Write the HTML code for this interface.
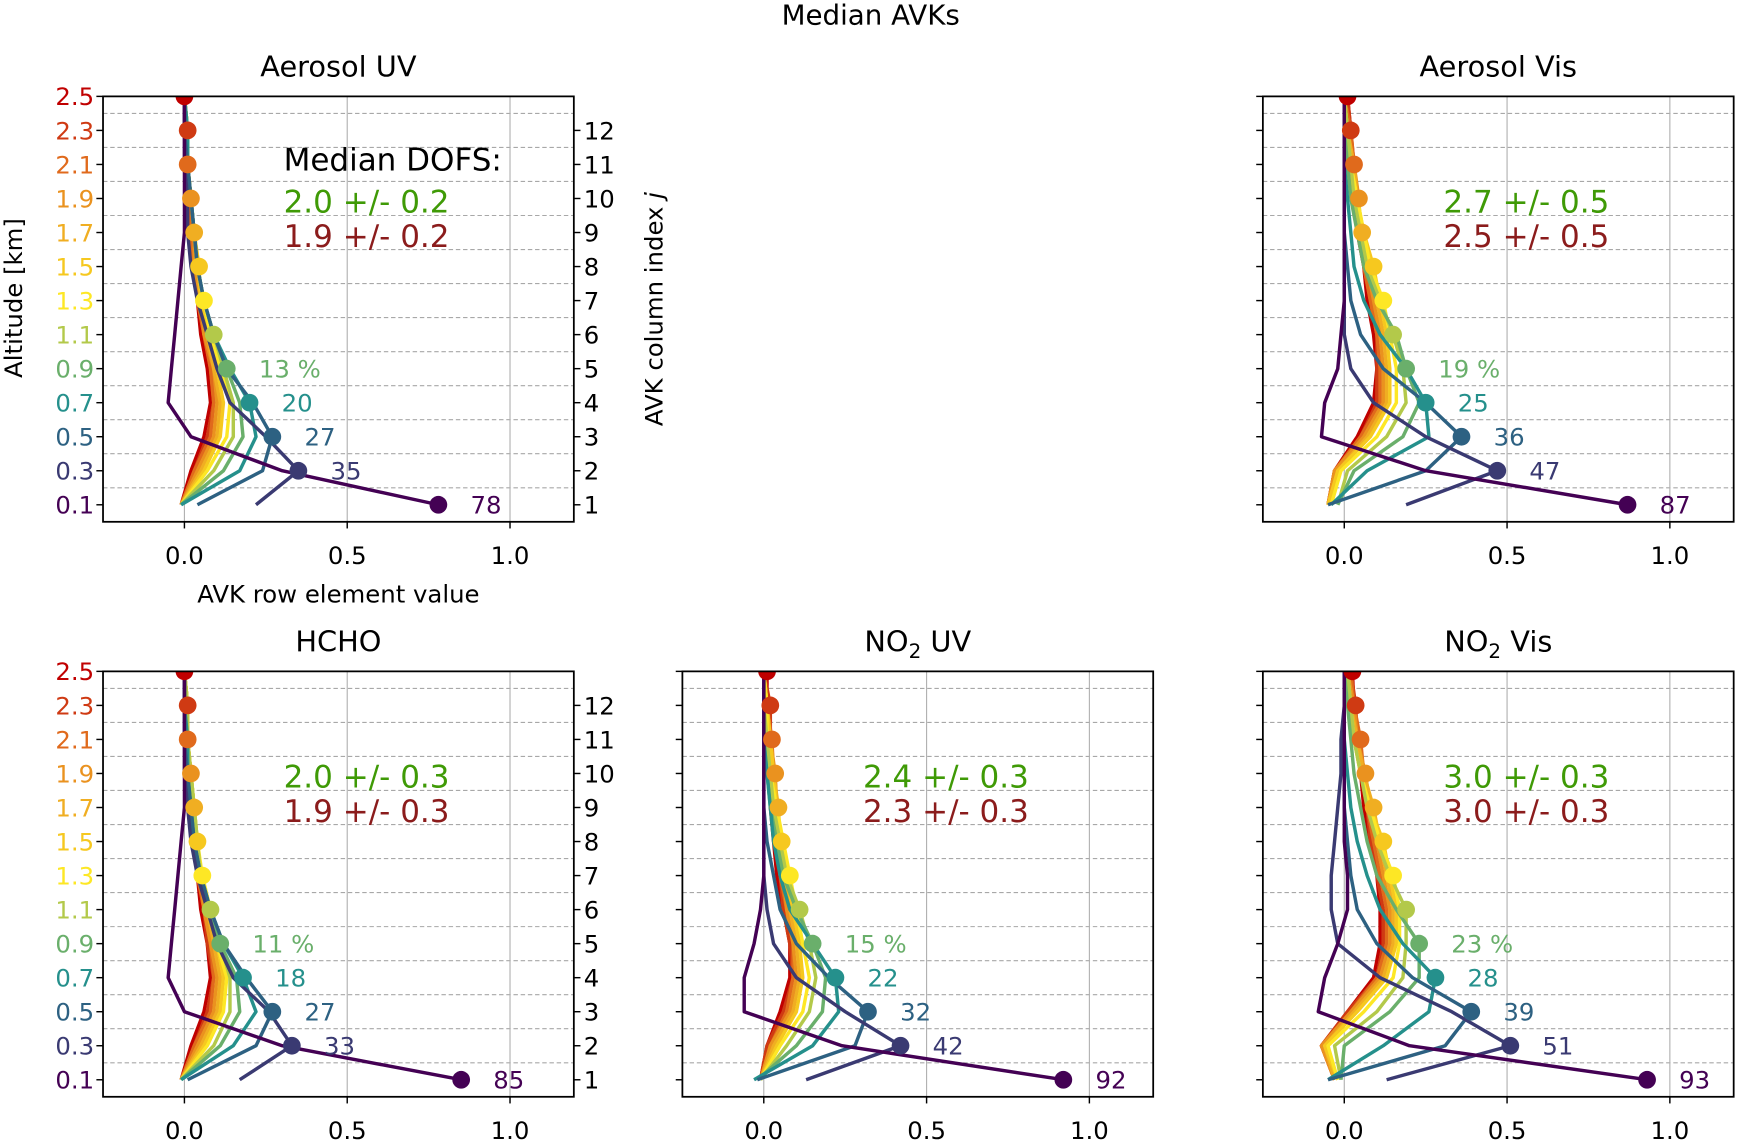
<!DOCTYPE html>
<html><head><meta charset="utf-8"><style>
html,body{margin:0;padding:0;background:#fff}
svg{display:block;font-family:"DejaVu Sans","Liberation Sans",sans-serif}
</style></head><body>
<svg id="fig" width="1737" height="1140" viewBox="0 0 1568 1029" preserveAspectRatio="none" xmlns="http://www.w3.org/2000/svg">
<text x="786" y="22" font-size="25" text-anchor="middle">Median AVKs</text>
</svg>
<script>
const altitudes=[0.1,0.3,0.5,0.7,0.9,1.1,1.3,1.5,1.7,1.9,2.1,2.3,2.5];
const altLabels=['0.1','0.3','0.5','0.7','0.9','1.1','1.3','1.5','1.7','1.9','2.1','2.3','2.5'];
const colIndexLabels=['1','2','3','4','5','6','7','8','9','10','11','12'];
const xTicks=[0,0.5,1.0];
const xTickLabels=['0.0','0.5','1.0'];
const rowColors=['#440154','#3a3a72','#2d6182','#25908c','#6aaf6b','#b3c94a','#fde725','#f6c81f','#f0ae22','#ea921f','#e06a1c','#cf3a13','#c00000'];

const avkAerosolUV=[
[0.78,0.30,0.02,-0.05,-0.04,-0.03,-0.02,-0.01,0,0,0,0,0],
[0.22,0.35,0.25,0.14,0.10,0.07,0.04,0.02,0.01,0.01,0,0,0],
[0.04,0.24,0.27,0.21,0.13,0.09,0.06,0.04,0.03,0.02,0.01,0,0],
[-0.01,0.17,0.22,0.20,0.14,0.09,0.06,0.04,0.03,0.02,0.01,0.01,0],
[-0.01,0.12,0.18,0.17,0.13,0.09,0.06,0.04,0.03,0.02,0.01,0.01,0],
[-0.01,0.09,0.15,0.15,0.12,0.09,0.06,0.04,0.03,0.02,0.01,0.01,0],
[-0.01,0.07,0.13,0.14,0.11,0.08,0.06,0.04,0.03,0.02,0.01,0.01,0],
[-0.01,0.06,0.11,0.12,0.10,0.07,0.05,0.045,0.03,0.02,0.01,0.01,0],
[-0.01,0.05,0.10,0.11,0.09,0.07,0.05,0.04,0.03,0.02,0.01,0.01,0],
[-0.01,0.04,0.09,0.10,0.09,0.06,0.05,0.03,0.03,0.02,0.01,0.01,0],
[-0.01,0.03,0.08,0.09,0.08,0.06,0.04,0.03,0.02,0.02,0.01,0.01,0],
[-0.01,0.03,0.07,0.09,0.08,0.06,0.04,0.03,0.02,0.01,0.01,0.01,0],
[-0.01,0.02,0.06,0.08,0.07,0.05,0.04,0.03,0.02,0.01,0.01,0,0]];
const avkAerosolVis=[
[0.87,0.25,-0.07,-0.06,-0.02,-0.01,0,0,0,0,0,0,0],
[0.19,0.47,0.25,0.09,0.02,0.0,0,0,0,0,0,0,0],
[-0.05,0.25,0.36,0.25,0.12,0.05,0.02,0.01,0,0,0,0,0],
[-0.04,0.07,0.26,0.25,0.19,0.11,0.06,0.03,0.02,0.01,0,0,0],
[-0.02,0.03,0.18,0.23,0.19,0.16,0.10,0.06,0.04,0.02,0.01,0,0],
[-0.02,0.01,0.13,0.19,0.18,0.15,0.11,0.07,0.05,0.03,0.02,0.01,0],
[-0.04,-0.01,0.10,0.16,0.16,0.14,0.12,0.08,0.06,0.04,0.02,0.01,0],
[-0.05,-0.02,0.08,0.14,0.14,0.13,0.11,0.09,0.06,0.04,0.02,0.01,0],
[-0.05,-0.02,0.07,0.13,0.13,0.12,0.10,0.07,0.055,0.04,0.03,0.01,0],
[-0.05,-0.03,0.06,0.12,0.12,0.11,0.09,0.07,0.05,0.045,0.03,0.01,0],
[-0.05,-0.03,0.05,0.11,0.11,0.10,0.08,0.06,0.05,0.04,0.03,0.02,0],
[-0.05,-0.03,0.05,0.10,0.10,0.10,0.08,0.06,0.05,0.04,0.03,0.02,0.01],
[-0.05,-0.03,0.04,0.09,0.10,0.09,0.07,0.06,0.04,0.03,0.02,0.02,0.01]];
const avkHCHO=[
[0.85,0.30,0.0,-0.05,-0.04,-0.03,-0.02,-0.01,0,0,0,0,0],
[0.17,0.33,0.26,0.15,0.10,0.07,0.04,0.02,0.01,0,0,0,0],
[0.01,0.22,0.27,0.19,0.12,0.08,0.05,0.03,0.02,0.01,0,0,0],
[-0.01,0.15,0.22,0.18,0.12,0.08,0.05,0.03,0.02,0.01,0.01,0,0],
[-0.01,0.11,0.17,0.16,0.11,0.08,0.05,0.03,0.02,0.01,0.01,0,0],
[-0.01,0.09,0.14,0.14,0.11,0.08,0.05,0.04,0.03,0.02,0.01,0.01,0],
[-0.01,0.07,0.12,0.13,0.10,0.08,0.055,0.04,0.03,0.02,0.01,0.01,0],
[-0.01,0.06,0.11,0.12,0.10,0.07,0.05,0.04,0.03,0.02,0.01,0.01,0],
[-0.01,0.05,0.10,0.11,0.09,0.07,0.05,0.04,0.03,0.02,0.01,0.01,0],
[-0.01,0.04,0.09,0.10,0.08,0.06,0.05,0.03,0.03,0.02,0.01,0.01,0],
[-0.01,0.03,0.08,0.09,0.08,0.06,0.04,0.03,0.02,0.02,0.01,0.01,0],
[-0.01,0.03,0.07,0.09,0.07,0.06,0.04,0.03,0.02,0.01,0.01,0.01,0],
[-0.01,0.02,0.06,0.08,0.07,0.05,0.04,0.03,0.02,0.01,0.01,0,0]];
const avkNO2UV=[
[0.92,0.24,-0.06,-0.06,-0.03,-0.01,0,0,0,0,0,0,0],
[0.13,0.42,0.25,0.10,0.03,0.01,0,0,0,0,0,0,0],
[-0.02,0.28,0.32,0.20,0.10,0.05,0.03,0.01,0,0,0,0,0],
[-0.03,0.15,0.23,0.22,0.15,0.08,0.05,0.03,0.02,0.01,0,0,0],
[-0.02,0.10,0.18,0.19,0.15,0.10,0.06,0.04,0.02,0.01,0,0,0],
[-0.01,0.07,0.14,0.16,0.14,0.11,0.07,0.05,0.03,0.02,0.01,0,0],
[-0.01,0.05,0.12,0.14,0.12,0.10,0.08,0.06,0.04,0.02,0.01,0.01,0],
[-0.01,0.04,0.10,0.12,0.11,0.09,0.07,0.055,0.04,0.03,0.02,0.01,0],
[-0.01,0.03,0.09,0.11,0.10,0.08,0.06,0.05,0.045,0.03,0.02,0.01,0],
[-0.01,0.02,0.08,0.10,0.09,0.07,0.06,0.04,0.04,0.035,0.02,0.01,0],
[-0.01,0.02,0.07,0.09,0.09,0.07,0.05,0.04,0.03,0.03,0.025,0.01,0],
[-0.01,0.01,0.06,0.09,0.08,0.06,0.05,0.04,0.03,0.02,0.02,0.02,0],
[-0.01,0.01,0.05,0.08,0.08,0.06,0.04,0.03,0.02,0.02,0.01,0.01,0.01]];
const avkNO2Vis=[
[0.93,0.20,-0.08,-0.06,-0.02,0.01,0.01,0,0,0,0,0,0],
[0.13,0.51,0.33,0.11,-0.02,-0.04,-0.04,-0.03,-0.02,-0.01,-0.01,0,0],
[-0.05,0.31,0.39,0.21,0.10,0.04,0.02,0.01,0,0,0,0,0],
[-0.05,0.12,0.26,0.28,0.18,0.11,0.07,0.04,0.02,0.01,0,0,0],
[-0.01,0.0,0.14,0.23,0.23,0.16,0.10,0.07,0.05,0.03,0.02,0.01,0],
[-0.01,-0.03,0.10,0.18,0.19,0.19,0.14,0.10,0.07,0.05,0.03,0.02,0.01],
[-0.02,-0.05,0.06,0.15,0.17,0.17,0.15,0.11,0.08,0.05,0.03,0.02,0.01],
[-0.02,-0.06,0.04,0.13,0.16,0.16,0.14,0.12,0.08,0.05,0.03,0.02,0.01],
[-0.03,-0.06,0.03,0.12,0.15,0.15,0.13,0.11,0.09,0.06,0.04,0.02,0.01],
[-0.03,-0.07,0.02,0.11,0.14,0.14,0.12,0.10,0.08,0.065,0.04,0.03,0.01],
[-0.03,-0.07,0.02,0.10,0.13,0.13,0.11,0.09,0.07,0.06,0.05,0.03,0.02],
[-0.03,-0.07,0.01,0.10,0.12,0.12,0.10,0.08,0.07,0.05,0.04,0.035,0.02],
[-0.03,-0.07,0.01,0.09,0.11,0.11,0.10,0.08,0.06,0.05,0.04,0.03,0.025]];

const pctAerosolUV=['78','35','27','20','13 %'];
const pctAerosolVis=['87','47','36','25','19 %'];
const pctHCHO=['85','33','27','18','11 %'];
const pctNO2UV=['92','42','32','22','15 %'];
const pctNO2Vis=['93','51','39','28','23 %'];
const dofsAerosolUV=['2.0 +/- 0.2','1.9 +/- 0.2'];
const dofsAerosolVis=['2.7 +/- 0.5','2.5 +/- 0.5'];
const dofsHCHO=['2.0 +/- 0.3','1.9 +/- 0.3'];
const dofsNO2UV=['2.4 +/- 0.3','2.3 +/- 0.3'];
const dofsNO2Vis=['3.0 +/- 0.3','3.0 +/- 0.3'];

const NS='http://www.w3.org/2000/svg';
const svg=document.getElementById('fig');
function mk(tag,attrs,parent){const e=document.createElementNS(NS,tag);for(const k in attrs)e.setAttribute(k,attrs[k]);(parent||svg).appendChild(e);return e;}

const panels=[
 {id:'aerosol-uv',title:'Aerosol UV',sub:null,L:93,T:87,data:avkAerosolUV,pct:pctAerosolUV,dofs:dofsAerosolUV,leftCol:true,header:true,xlabel:true},
 {id:'aerosol-vis',title:'Aerosol Vis',sub:null,L:1140,T:87,data:avkAerosolVis,pct:pctAerosolVis,dofs:dofsAerosolVis,leftCol:false},
 {id:'hcho',title:'HCHO',sub:null,L:93,T:606,data:avkHCHO,pct:pctHCHO,dofs:dofsHCHO,leftCol:true},
 {id:'no2-uv',title:'NO',sub:' UV',L:616,T:606,data:avkNO2UV,pct:pctNO2UV,dofs:dofsNO2UV,leftCol:false},
 {id:'no2-vis',title:'NO',sub:' Vis',L:1140,T:606,data:avkNO2Vis,pct:pctNO2Vis,dofs:dofsNO2Vis,leftCol:false}
];
const W=425,H=384,XMIN=-0.25,XMAX=1.196;

panels.forEach((p,pi)=>{
 const sx=v=>p.L+(v-XMIN)/(XMAX-XMIN)*W;
 const sy=z=>p.T+(2.5-z)/2.5*H;
 const g=mk('g',{});
 
 
 const cid='clip'+pi;
 const cp=mk('clipPath',{id:cid},g);mk('rect',{x:p.L,y:p.T,width:W,height:H},cp);
 const t=mk('text',{x:p.L+W/2,y:p.T-18,'font-size':26,'text-anchor':'middle'},g);
 
 
 if(p.sub){t.appendChild(document.createTextNode(p.title));const s=mk('tspan',{'font-size':18,dy:6},t);s.textContent='2';const s2=mk('tspan',{dy:-6},t);s2.textContent=p.sub;}
 else t.textContent=p.title;
 for(let k=1;k<13;k++){const z=k*0.2;const l=mk('line',{x1:p.L,x2:p.L+W,y1:sy(z),y2:sy(z),stroke:'#a8a8a8','stroke-width':1,'stroke-dasharray':'4,2.5'},g);
  
  }
 xTicks.forEach((v,i)=>{const l=mk('line',{x1:sx(v),x2:sx(v),y1:p.T,y2:p.T+H,stroke:'#b0b0b0','stroke-width':1},g);
  
  
  mk('line',{x1:sx(v),x2:sx(v),y1:p.T+H,y2:p.T+H+6,stroke:'#000','stroke-width':1.3},g);
  const tl=mk('text',{x:sx(v),y:p.T+H+38,'font-size':22,'text-anchor':'middle'},g);tl.textContent=xTickLabels[i];
  
  });
 const lg=mk('g',{'clip-path':'url(#'+cid+')'},g);
 for(let r=12;r>=0;r--){
  const pts=p.data[r].map((v,j)=>sx(v).toFixed(1)+','+sy(altitudes[j]).toFixed(1)).join(' ');
  const pl=mk('polyline',{points:pts,fill:'none',stroke:rowColors[r],'stroke-width':3.1,'stroke-linejoin':'round'},lg);
  
  
 }
 for(let r=12;r>=0;r--){
  const c=mk('circle',{cx:sx(p.data[r][r]),cy:sy(altitudes[r]),r:8,fill:rowColors[r]},lg);
  
  
 }
 p.pct.forEach((s,r)=>{const tx=mk('text',{x:sx(p.data[r][r])+29,y:sy(altitudes[r])+8,'font-size':22,fill:rowColors[r]},g);tx.textContent=s;
  
  });
 const fr=mk('rect',{x:p.L,y:p.T,width:W,height:H,fill:'none',stroke:'#000','stroke-width':1.6},g);
 
 
 altitudes.forEach((z,j)=>{
  mk('line',{x1:p.L-6,x2:p.L,y1:sy(z),y2:sy(z),stroke:'#000','stroke-width':1.3},g);
  if(p.leftCol){
   const tl=mk('text',{x:p.L-8,y:sy(z)+8,'font-size':22,'text-anchor':'end',fill:rowColors[j]},g);tl.textContent=altLabels[j];
   
   
   if(j<12){mk('line',{x1:p.L+W,x2:p.L+W+6,y1:sy(z),y2:sy(z),stroke:'#000','stroke-width':1.3},g);
    const rl=mk('text',{x:p.L+W+9,y:sy(z)+8,'font-size':22},g);rl.textContent=colIndexLabels[j];
    
    }
  }
 });
 const tx=p.L+163;
 if(p.header){const h=mk('text',{x:tx,y:p.T+67,'font-size':28},g);h.textContent='Median DOFS:';
  
  }
 const d1=mk('text',{x:tx,y:p.T+105,'font-size':28,fill:'#3f9a06'},g);d1.textContent=p.dofs[0];
 
 
 const d2=mk('text',{x:tx,y:p.T+136,'font-size':28,fill:'#8b1c1c'},g);d2.textContent=p.dofs[1];
 
 
 if(p.xlabel){const xl=mk('text',{x:p.L+W/2,y:p.T+H+73,'font-size':22,'text-anchor':'middle'},g);xl.textContent='AVK row element value';
  
  
  const yl=mk('text',{x:0,y:0,'font-size':22,'text-anchor':'middle',transform:'translate(20,'+(p.T+H/2-10)+') rotate(-90)'},g);yl.textContent='Altitude [km]';
  
  
  const ry=mk('text',{x:0,y:0,'font-size':22,'text-anchor':'middle',transform:'translate(598,'+(p.T+192)+') rotate(-90)'},g);
  ry.appendChild(document.createTextNode('AVK column index '));const it=mk('tspan',{'font-style':'italic'},ry);it.textContent='j';
  
  }
});
</script>
</body></html>
